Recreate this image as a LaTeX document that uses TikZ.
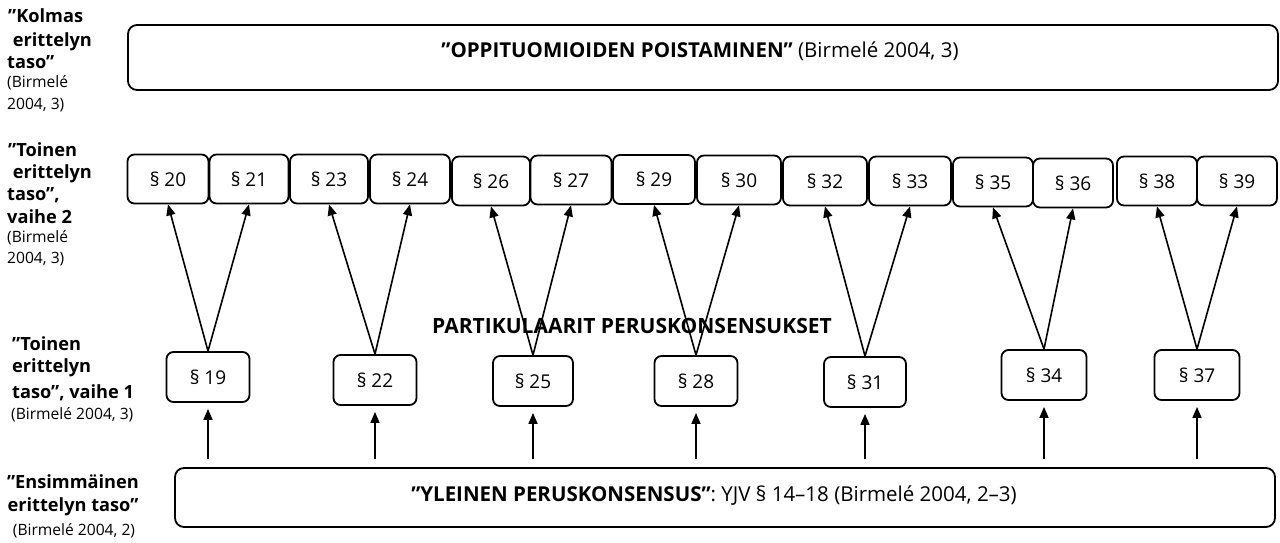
\documentclass[tikz,border=0pt]{standalone}
\usepackage{fontspec}
\setmainfont{Open Sans}
\usetikzlibrary{arrows.meta}
\begin{document}
\begin{tikzpicture}[x=1pt,y=-1pt,
  sbox/.style={draw, line width=1.8pt, rounded corners=7pt, minimum width=80pt, minimum height=49pt, inner sep=0pt, font=\fontsize{19}{22}\selectfont},
  bigbox/.style={draw, line width=1.8pt, rounded corners=9pt, inner sep=0pt},
  arr/.style={-{Triangle[length=11pt,width=9pt]}, line width=1.6pt},
  bl/.style={anchor=base west, inner sep=0pt, font=\fontsize{18.2}{22}\selectfont\bfseries},
  cl/.style={anchor=base west, inner sep=0pt, font=\fontsize{15.6}{20}\selectfont},
]
\useasboundingbox (0,0) rectangle (1280,543);
% left label 1
\node[bl] (l1a) at (8,23) {”Kolmas};
\node[bl] (l1b) at (8,47) {\ erittelyn};
\node[bl] (l1c) at (7,69) {taso”};
\node[cl] (l1d) at (7,88) {(Birmelé};
\node[cl] (l1e) at (7,109) {2004, 3)};
% left label 2
\node[bl] (l2a) at (8,156) {”Toinen};
\node[bl] (l2b) at (8,178) {\ erittelyn};
\node[bl] (l2c) at (7,200) {taso”,};
\node[bl] (l2d) at (7,223) {vaihe 2};
\node[cl] (l2e) at (7,242) {(Birmelé};
\node[cl] (l2f) at (7,263) {2004, 3)};
% left label 3
\node[bl] (l3a) at (12,350) {”Toinen};
\node[bl] (l3b) at (12,372) {erittelyn};
\node[bl] (l3c) at (12,398) {taso”, vaihe 1};
\node[cl] (l3d) at (11,419) {(Birmelé 2004, 3)};
% left label 4
\node[bl, anchor=base] (l4a) at (73,488) {”Ensimmäinen};
\node[bl, anchor=base] (l4b) at (73,511) {erittelyn taso”};
\node[cl, anchor=base] (l4c) at (74,535) {(Birmelé 2004, 2)};
% top box
\node[bigbox, minimum width=1150pt, minimum height=65pt] (top) at (703,57.5) {};
\node[font=\fontsize{20.5}{24}\selectfont, inner sep=0pt] (toptxt) at (700,51) {\textbf{”OPPITUOMIOIDEN POISTAMINEN”} (Birmelé 2004, 3)};
% bottom box
\node[bigbox, minimum width=1100pt, minimum height=59pt] (bot) at (725,497.5) {};
\node[font=\fontsize{20.5}{24}\selectfont, inner sep=0pt] (bottxt) at (714,496) {\textbf{”YLEINEN PERUSKONSENSUS”}: YJV § 14–18 (Birmelé 2004, 2–3)};
% middle text
\node[font=\fontsize{21}{24}\selectfont\bfseries, inner sep=0pt] (mid) at (632,326) {PARTIKULAARIT PERUSKONSENSUKSET};
% row 2
\node[sbox, minimum width=81pt] (s20) at (168,179) {§ 20};
\node[sbox, minimum width=79pt] (s21) at (249,179) {§ 21};
\node[sbox, minimum width=78pt] (s23) at (329,179) {§ 23};
\node[sbox, minimum width=80pt] (s24) at (410,179) {§ 24};
\node[sbox, minimum width=78pt] (s26) at (491,181) {§ 26};
\node[sbox, minimum width=81pt] (s27) at (571,180) {§ 27};
\node[sbox, minimum width=82pt] (s29) at (654,179.5) {§ 29};
\node[sbox, minimum width=84pt] (s30) at (739,180) {§ 30};
\node[sbox, minimum width=84pt] (s32) at (825,181) {§ 32};
\node[sbox, minimum width=82pt] (s33) at (910,181) {§ 33};
\node[sbox, minimum width=80pt] (s35) at (993,182) {§ 35};
\node[sbox, minimum width=80pt] (s36) at (1073,183) {§ 36};
\node[sbox, minimum width=80pt] (s38) at (1157,181) {§ 38};
\node[sbox, minimum width=80pt] (s39) at (1237,181) {§ 39};
% row 3
\node[sbox, minimum width=83pt, minimum height=50pt] (s19) at (208,377) {§ 19};
\node[sbox, minimum width=83pt, minimum height=50pt] (s22) at (375,380) {§ 22};
\node[sbox, minimum width=80pt, minimum height=50pt] (s25) at (533,381) {§ 25};
\node[sbox, minimum width=83pt, minimum height=50pt] (s28) at (696,381) {§ 28};
\node[sbox, minimum width=82pt, minimum height=50pt] (s31) at (865,382) {§ 31};
\node[sbox, minimum width=85pt, minimum height=50pt] (s34) at (1044,375) {§ 34};
\node[sbox, minimum width=85pt, minimum height=50pt] (s37) at (1197,375) {§ 37};
% V arrows
\foreach \a/\b/\c in {s19/s20/s21, s22/s23/s24, s25/s26/s27, s28/s29/s30, s31/s32/s33, s34/s35/s36, s37/s38/s39}{
  \draw[arr] (\a.north) -- (\b.south);
  \draw[arr] (\a.north) -- (\c.south);
}
% bottom arrows
\foreach \a in {s19,s22,s25,s28,s31,s34,s37}{
  \draw[arr, shorten >=6pt, shorten <=8pt] (\a |- bot.north) -- (\a.south);
}
\end{tikzpicture}
\end{document}
